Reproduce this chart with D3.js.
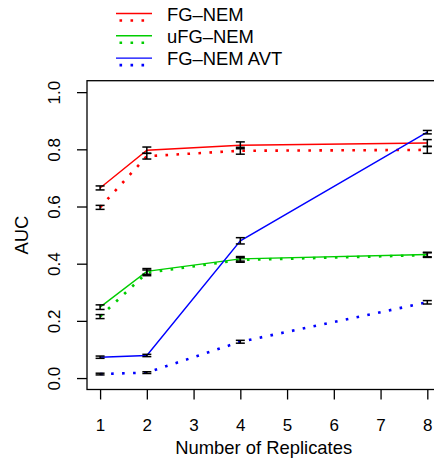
<!DOCTYPE html>
<html><head><meta charset="utf-8">
<script src="https://cdn.jsdelivr.net/npm/d3@7/dist/d3.min.js"></script>
<style>body{margin:0;background:#fff}svg{display:block}text{font-family:"Liberation Sans",Arial,sans-serif}</style>
</head><body>
<script>
const replicates = [1, 2, 4, 8];
const xTicks = [1, 2, 3, 4, 5, 6, 7, 8];
const yTicks = [0, 0.2, 0.4, 0.6, 0.8, 1.0];
const yTickLabels = ["0.0", "0.2", "0.4", "0.6", "0.8", "1.0"];
const seriesNames = ["FG\u2013NEM", "uFG\u2013NEM", "FG\u2013NEM AVT"];
const seriesColors = ["#ff0000", "#00cd00", "#0000ff"];
const fgSolid = [0.665, 0.797, 0.814, 0.822];
const fgSolidErr = [0.007, 0.011, 0.012, 0.012];
const fgDotted = [0.597, 0.776, 0.795, 0.798];
const fgDottedErr = [0.007, 0.010, 0.012, 0.012];
const ufgSolid = [0.248, 0.373, 0.417, 0.432];
const ufgSolidErr = [0.008, 0.010, 0.008, 0.008];
const ufgDotted = [0.215, 0.368, 0.413, 0.430];
const ufgDottedErr = [0.007, 0.010, 0.008, 0.008];
const avtSolid = [0.073, 0.079, 0.480, 0.860];
const avtSolidErr = [0.004, 0.004, 0.011, 0.006];
const avtDotted = [0.014, 0.019, 0.127, 0.265];
const avtDottedErr = [0.003, 0.003, 0.005, 0.006];

const W = 434, H = 469;
const svg = d3.select("body").append("svg").attr("width", W).attr("height", H);
const x = d3.scaleLinear().domain([0.72, 8.28]).range([87, 440.4]);
const y = d3.scaleLinear().domain([-0.04, 1.04]).range([389.5, 80.7]);
const fsTick = 17, fsLab = 18.4;

const series = [
  {v: fgSolid, e: fgSolidErr, c: seriesColors[0], dot: false},
  {v: fgDotted, e: fgDottedErr, c: seriesColors[0], dot: true},
  {v: ufgSolid, e: ufgSolidErr, c: seriesColors[1], dot: false},
  {v: ufgDotted, e: ufgDottedErr, c: seriesColors[1], dot: true},
  {v: avtSolid, e: avtSolidErr, c: seriesColors[2], dot: false},
  {v: avtDotted, e: avtDottedErr, c: seriesColors[2], dot: true}
];

const line = d3.line().x((d, i) => x(replicates[i])).y(d => y(d));
const plot = svg.append("g");
series.forEach(s => {
  plot.append("path").attr("d", line(s.v)).attr("fill", "none")
    .attr("stroke", s.c)
    .attr("stroke-width", s.dot ? 2.6 : 1.4)
    .attr("stroke-dasharray", s.dot ? "2.6,8.4" : null);
});
series.forEach(s => {
  const g = plot.append("g").attr("stroke", "#000").attr("stroke-width", 1.5);
  s.v.forEach((v, i) => {
    const cx = x(replicates[i]), y1 = y(v - s.e[i]), y2 = y(v + s.e[i]);
    g.append("line").attr("x1", cx).attr("x2", cx).attr("y1", y1).attr("y2", y2);
    g.append("line").attr("x1", cx - 4.5).attr("x2", cx + 4.5).attr("y1", y1).attr("y2", y1);
    g.append("line").attr("x1", cx - 4.5).attr("x2", cx + 4.5).attr("y1", y2).attr("y2", y2);
  });
});

// box
svg.append("rect").attr("x", 87).attr("y", 80.7).attr("width", 353.4).attr("height", 308.8)
  .attr("fill", "none").attr("stroke", "#000").attr("stroke-width", 1.3);

// x axis
const xa = svg.append("g").attr("transform", "translate(0,389.5)")
  .call(d3.axisBottom(x).tickValues(xTicks).tickFormat(d3.format("d")).tickSize(10).tickPadding(19));
xa.select(".domain").remove();
xa.selectAll("line").attr("stroke-width", 1.3);
xa.selectAll("text").attr("font-size", fsTick).attr("font-family", "Liberation Sans, Arial, sans-serif").attr("fill", "#000");

// y axis
const ya = svg.append("g").attr("transform", "translate(87,0)")
  .call(d3.axisLeft(y).tickValues(yTicks).tickFormat((d, i) => yTickLabels[i]).tickSize(10).tickPadding(0));
ya.select(".domain").remove();
ya.selectAll("line").attr("stroke-width", 1.3);
ya.selectAll("text").attr("font-size", fsTick).attr("font-family", "Liberation Sans, Arial, sans-serif").attr("fill", "#000")
  .attr("text-anchor", "middle").attr("x", 0)
  .attr("transform", "translate(-33,0) rotate(-90)").attr("dy", "0.35em");

// axis titles
svg.append("text").attr("x", x(4.5)).attr("y", 447).attr("text-anchor", "middle")
  .attr("dominant-baseline", "central").attr("font-size", fsLab).text("Number of Replicates");
svg.append("text").attr("transform", `translate(21,${y(0.5)}) rotate(-90)`).attr("text-anchor", "middle")
  .attr("dominant-baseline", "central").attr("font-size", fsLab).text("AUC");

// legend
const leg = svg.append("g");
seriesNames.forEach((n, i) => {
  const yc = 14 + i * 22.3;
  leg.append("line").attr("x1", 116).attr("x2", 152).attr("y1", yc - 0.5).attr("y2", yc - 0.5)
    .attr("stroke", seriesColors[i]).attr("stroke-width", 1.4);
  leg.append("line").attr("x1", 119.5).attr("x2", 152).attr("y1", yc + 6.5).attr("y2", yc + 6.5)
    .attr("stroke", seriesColors[i]).attr("stroke-width", 2.6).attr("stroke-dasharray", "2.6,8.4");
  leg.append("text").attr("x", 167).attr("y", yc).attr("dominant-baseline", "central")
    .attr("font-size", fsLab).text(n);
});
</script>
</body></html>
